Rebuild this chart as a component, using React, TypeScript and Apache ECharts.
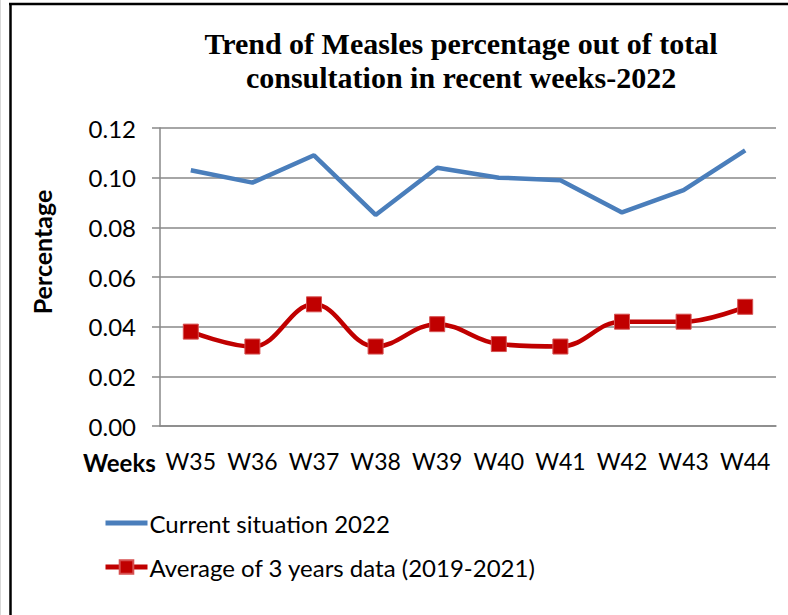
import React, { useEffect, useRef } from "react";
import * as echarts from "echarts";

const weeks = ["W35", "W36", "W37", "W38", "W39", "W40", "W41", "W42", "W43", "W44"];
const current2022 = [0.103, 0.098, 0.109, 0.085, 0.104, 0.1, 0.099, 0.086, 0.095, 0.111];
const avg3Years = [0.038, 0.032, 0.049, 0.032, 0.041, 0.033, 0.032, 0.042, 0.042, 0.048];
const seriesNames = ["Current situation 2022", "Average of 3 years data (2019-2021)"];
const titleText = "Trend of Measles percentage out of total\nconsultation in recent weeks-2022";

const SANS = "Lato, 'Open Sans', sans-serif";

export default function App() {
  const ref = useRef<HTMLDivElement>(null);
  useEffect(() => {
    if (!ref.current) return;
    const chart = echarts.init(ref.current, null, { renderer: "svg" });
    chart.setOption({
      animation: false,
      backgroundColor: "#ffffff",
      title: {
        text: titleText,
        left: 456,
        top: 21,
        textAlign: "center",
        textStyle: {
          fontFamily: "'Liberation Serif', 'Times New Roman', serif",
          fontWeight: "bold",
          fontSize: 30,
          lineHeight: 34,
          color: "#000",
        },
      },
      grid: { left: 160, right: 12, top: 128, bottom: 189, containLabel: false },
      legend: {
        orient: "vertical",
        left: 98,
        top: 506,
        itemWidth: 42,
        itemHeight: 17,
        itemGap: 20,
        data: [
          {
            name: seriesNames[0],
            itemStyle: { opacity: 0 },
            lineStyle: { width: 5, color: "#4a7ebb" },
          },
          {
            name: seriesNames[1],
            lineStyle: { width: 5, color: "#c00000" },
          },
        ],
        textStyle: { fontFamily: SANS, fontSize: 24, color: "#000", padding: [0, 0, 0, -3] },
      },
      xAxis: {
        type: "category",
        data: weeks,
        boundaryGap: true,
        axisLine: { lineStyle: { color: "#888888", width: 1.5 } },
        axisTick: { length: 6, lineStyle: { color: "#888888", width: 1.5 } },
        axisLabel: { fontFamily: SANS, fontSize: 23, color: "#000", margin: 23, interval: 0 },
      },
      yAxis: {
        type: "value",
        min: 0,
        max: 0.12,
        interval: 0.02,
        axisLine: { show: true, lineStyle: { color: "#888888", width: 1.5 } },
        axisTick: { show: true, length: 8, lineStyle: { color: "#888888", width: 1.5 } },
        axisLabel: {
          fontFamily: SANS,
          fontSize: 24,
          color: "#000",
          margin: 24,
          formatter: (v: number) => v.toFixed(2),
        },
        splitLine: { lineStyle: { color: "#888888", width: 1.5 } },
      },
      series: [
        {
          name: seriesNames[0],
          type: "line",
          data: current2022,
          symbol: "none",
          lineStyle: { color: "#4a7ebb", width: 4.5 },
          itemStyle: { color: "#4a7ebb" },
        },
        {
          name: seriesNames[1],
          type: "line",
          data: avg3Years,
          smooth: 0.4,
          symbol: "rect",
          symbolSize: 15,
          lineStyle: { color: "#c00000", width: 4.5 },
          itemStyle: { color: "#c00000", borderColor: "#d65050", borderWidth: 1 },
        },
      ],
      graphic: [
        { type: "line", shape: { x1: 0.5, y1: 0, x2: 0.5, y2: 615 }, style: { stroke: "#d8d8d8", lineWidth: 1 } },
        { type: "line", shape: { x1: 10.5, y1: 3, x2: 10.5, y2: 615 }, style: { stroke: "#000", lineWidth: 2.5 } },
        { type: "line", shape: { x1: 9, y1: 4, x2: 788, y2: 4 }, style: { stroke: "#000", lineWidth: 2.5 } },
        {
          type: "text",
          x: 83,
          y: 462,
          style: {
            text: "Weeks",
            fontFamily: SANS,
            fontSize: 24,
            fontWeight: "bold",
            fill: "#000",
            textVerticalAlign: "middle",
          },
        },
        {
          type: "text",
          x: 42,
          y: 252,
          rotation: Math.PI / 2,
          style: {
            text: "Percentage",
            fontFamily: SANS,
            fontSize: 25,
            fontWeight: "bold",
            fill: "#000",
            textAlign: "center",
            textVerticalAlign: "middle",
          },
        },
      ],
    });
    return () => chart.dispose();
  }, []);
  return (
    <div
      ref={ref}
      style={{ position: "fixed", left: 0, top: 0, width: 788, height: 615 }}
    />
  );
}
